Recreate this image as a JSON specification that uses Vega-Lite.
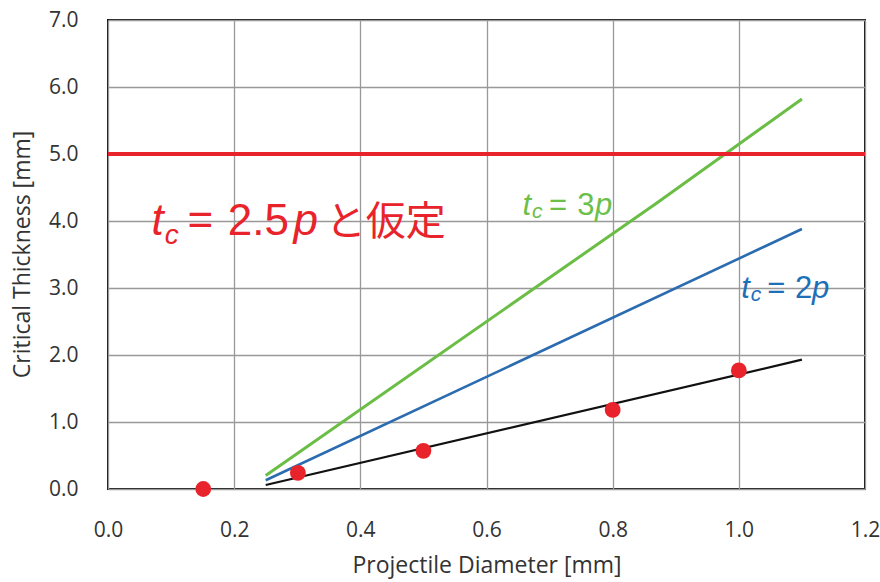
{
  "$schema": "https://vega.github.io/schema/vega-lite/v6.json",
  "width": 757,
  "height": 469,
  "autosize": {"type": "none"},
  "padding": {"left": 108, "top": 20, "right": 15, "bottom": 93},
  "background": "white",
  "config": {
    "view": {"stroke": "#111", "strokeWidth": 2},
    "axis": {
      "labelFont": "Open Sans",
      "labelFontSize": 21,
      "labelColor": "#333",
      "titleFont": "Open Sans",
      "titleFontSize": 23,
      "titleFontWeight": "normal",
      "titleColor": "#333",
      "gridColor": "#999999",
      "gridWidth": 1.3,
      "domain": false,
      "ticks": false,
      "labelFlush": false,
      "labelOverlap": false
    }
  },
  "datasets": {
    "lines": [
      {"series": "black", "d": 0.25, "t": 0.06},
      {"series": "black", "d": 1.10, "t": 1.93},
      {"series": "blue", "d": 0.25, "t": 0.13},
      {"series": "blue", "d": 1.10, "t": 3.88},
      {"series": "green", "d": 0.25, "t": 0.20},
      {"series": "green", "d": 0.87, "t": 4.27},
      {"series": "green", "d": 1.10, "t": 5.82}
    ],
    "points": [
      {"d": 0.151, "t": 0.0},
      {"d": 0.301, "t": 0.24},
      {"d": 0.5, "t": 0.57},
      {"d": 0.8, "t": 1.18},
      {"d": 1.0, "t": 1.77}
    ],
    "limit": [{"t": 5.0}],
    "labels": [
      {"who": "redText", "kind": "bigItalic", "d": 0.069, "t": 3.79, "text": "t"},
      {"who": "redText", "kind": "bigSub", "d": 0.090, "t": 3.66, "text": "c"},
      {"who": "redText", "kind": "bigNormal", "d": 0.126, "t": 3.79, "text": "="},
      {"who": "redText", "kind": "bigNormal", "d": 0.190, "t": 3.79, "text": "2.5"},
      {"who": "redText", "kind": "bigItalic", "d": 0.294, "t": 3.79, "text": "p"},
      {"who": "redText", "kind": "jp", "d": 0.345, "t": 3.79, "text": "と仮定"},
      {"who": "greenText", "kind": "smallItalic", "d": 0.657, "t": 4.09, "text": "t"},
      {"who": "greenText", "kind": "smallSub", "d": 0.672, "t": 4.04, "text": "c"},
      {"who": "greenText", "kind": "smallNormal", "d": 0.699, "t": 4.09, "text": "="},
      {"who": "greenText", "kind": "smallNormal", "d": 0.744, "t": 4.09, "text": "3"},
      {"who": "greenText", "kind": "smallItalic", "d": 0.772, "t": 4.09, "text": "p"},
      {"who": "blueText", "kind": "smallItalic", "d": 1.004, "t": 2.85, "text": "t"},
      {"who": "blueText", "kind": "smallSub", "d": 1.019, "t": 2.80, "text": "c"},
      {"who": "blueText", "kind": "smallNormal", "d": 1.045, "t": 2.85, "text": "="},
      {"who": "blueText", "kind": "smallNormal", "d": 1.089, "t": 2.85, "text": "2"},
      {"who": "blueText", "kind": "smallItalic", "d": 1.116, "t": 2.85, "text": "p"}
    ]
  },
  "layer": [
    {
      "data": {"name": "lines"},
      "mark": {"type": "line", "clip": true},
      "encoding": {
        "x": {
          "field": "d", "type": "quantitative",
          "scale": {"domain": [0, 1.2], "nice": false, "zero": false},
          "axis": {"values": [0, 0.2, 0.4, 0.6, 0.8, 1.0, 1.2], "format": ".1f", "title": "Projectile Diameter [mm]", "labelPadding": 30, "titlePadding": 14, "grid": true}
        },
        "y": {
          "field": "t", "type": "quantitative",
          "scale": {"domain": [0, 7], "nice": false},
          "axis": {"values": [0, 1, 2, 3, 4, 5, 6, 7], "format": ".1f", "title": "Critical Thickness [mm]", "labelPadding": 30, "titleX": -86, "titleY": 234, "titleBaseline": "middle", "titleAlign": "center", "grid": true}
        },
        "color": {
          "field": "series", "type": "nominal",
          "scale": {"domain": ["black", "blue", "green", "redText", "greenText", "blueText"], "range": ["#111111", "#2b6cb0", "#6abd45", "#e8232b", "#6cc04a", "#1d6fb8"]},
          "legend": null
        },
        "strokeWidth": {
          "field": "series", "type": "nominal",
          "scale": {"domain": ["black", "blue", "green"], "range": [2.2, 3, 3.6]},
          "legend": null
        }
      }
    },
    {
      "data": {"name": "limit"},
      "mark": {"type": "rule", "color": "#e8232b", "strokeWidth": 4},
      "encoding": {"y": {"field": "t", "type": "quantitative"}}
    },
    {
      "data": {"name": "points"},
      "mark": {"type": "circle", "size": 250, "color": "#e8232b", "opacity": 1, "clip": false},
      "encoding": {
        "x": {"field": "d", "type": "quantitative"},
        "y": {"field": "t", "type": "quantitative"}
      }
    },
    {
      "data": {"name": "labels"},
      "transform": [{"filter": "datum.kind === 'bigItalic'"}],
      "mark": {"type": "text", "align": "left", "baseline": "alphabetic", "font": "Liberation Sans", "fontStyle": "italic", "fontSize": 44},
      "encoding": {
        "x": {"field": "d", "type": "quantitative"},
        "y": {"field": "t", "type": "quantitative"},
        "text": {"field": "text"},
        "color": {"field": "who", "type": "nominal", "legend": null}
      }
    },
    {
      "data": {"name": "labels"},
      "transform": [{"filter": "datum.kind === 'bigSub'"}],
      "mark": {"type": "text", "align": "left", "baseline": "alphabetic", "font": "Liberation Sans", "fontStyle": "italic", "fontSize": 28},
      "encoding": {
        "x": {"field": "d", "type": "quantitative"},
        "y": {"field": "t", "type": "quantitative"},
        "text": {"field": "text"},
        "color": {"field": "who", "type": "nominal", "legend": null}
      }
    },
    {
      "data": {"name": "labels"},
      "transform": [{"filter": "datum.kind === 'bigNormal'"}],
      "mark": {"type": "text", "align": "left", "baseline": "alphabetic", "font": "Liberation Sans", "fontSize": 44},
      "encoding": {
        "x": {"field": "d", "type": "quantitative"},
        "y": {"field": "t", "type": "quantitative"},
        "text": {"field": "text"},
        "color": {"field": "who", "type": "nominal", "legend": null}
      }
    },
    {
      "data": {"name": "labels"},
      "transform": [{"filter": "datum.kind === 'jp'"}],
      "mark": {"type": "text", "align": "left", "baseline": "alphabetic", "font": "Noto Sans CJK JP", "fontSize": 40},
      "encoding": {
        "x": {"field": "d", "type": "quantitative"},
        "y": {"field": "t", "type": "quantitative"},
        "text": {"field": "text"},
        "color": {"field": "who", "type": "nominal", "legend": null}
      }
    },
    {
      "data": {"name": "labels"},
      "transform": [{"filter": "datum.kind === 'smallItalic'"}],
      "mark": {"type": "text", "align": "left", "baseline": "alphabetic", "font": "Liberation Sans", "fontStyle": "italic", "fontSize": 31},
      "encoding": {
        "x": {"field": "d", "type": "quantitative"},
        "y": {"field": "t", "type": "quantitative"},
        "text": {"field": "text"},
        "color": {"field": "who", "type": "nominal", "legend": null}
      }
    },
    {
      "data": {"name": "labels"},
      "transform": [{"filter": "datum.kind === 'smallSub'"}],
      "mark": {"type": "text", "align": "left", "baseline": "alphabetic", "font": "Liberation Sans", "fontStyle": "italic", "fontSize": 21},
      "encoding": {
        "x": {"field": "d", "type": "quantitative"},
        "y": {"field": "t", "type": "quantitative"},
        "text": {"field": "text"},
        "color": {"field": "who", "type": "nominal", "legend": null}
      }
    },
    {
      "data": {"name": "labels"},
      "transform": [{"filter": "datum.kind === 'smallNormal'"}],
      "mark": {"type": "text", "align": "left", "baseline": "alphabetic", "font": "Liberation Sans", "fontSize": 31},
      "encoding": {
        "x": {"field": "d", "type": "quantitative"},
        "y": {"field": "t", "type": "quantitative"},
        "text": {"field": "text"},
        "color": {"field": "who", "type": "nominal", "legend": null}
      }
    }
  ]
}
